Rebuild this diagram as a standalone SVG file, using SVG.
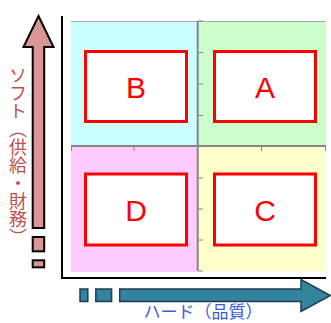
<svg xmlns="http://www.w3.org/2000/svg" width="331" height="323" viewBox="0 0 331 323">
<style>
.box{fill:#ffffff;stroke:#ff0000;stroke-width:3}
.lbl{font-family:"Liberation Sans",Arial,sans-serif;font-size:30px;fill:#ff0000;text-anchor:middle}
.axis{stroke:#868686;stroke-width:2;fill:none}
.tick{stroke:#868686;stroke-width:1;fill:none}
.blk{stroke:#000000;stroke-width:2;fill:none}
.pk{fill:#d99694;stroke:#000000;stroke-width:2}
.tl{fill:#31849b;stroke:#203a57;stroke-width:1.5}
</style>
<g id="quadrants">
<rect x="71" y="21" width="126.5" height="125" fill="#ccffff"/>
<rect x="198" y="21" width="128" height="125" fill="#ccffcc"/>
<rect x="71" y="146" width="126.5" height="126" fill="#ffccff"/>
<rect x="198" y="146" width="128" height="125" fill="#ffffcc"/>
<line x1="71" y1="21.5" x2="326" y2="21.5" stroke="#a6a6a6" stroke-width="1"/>
</g>
<g id="grid">
<line class="axis" x1="197.7" y1="21" x2="197.7" y2="271"/>
<line class="axis" x1="71" y1="146" x2="326" y2="146"/>
<path class="tick" d="M198 52.5h5M198 84h5M198 115.5h5M198 178h5M198 209h5M198 240h5M198 271h5M198 21h5"/>
<path class="tick" d="M71.5 146v5M134 146v5M261.5 146v5M325.5 146v5"/>
</g>
<g id="frame">
<path class="blk" d="M62 16V278H326"/>
</g>
<g id="node-B"><rect class="box" x="85.5" y="51.5" width="101" height="70"/><text class="lbl" x="136" y="97.5">B</text></g>
<g id="node-A"><rect class="box" x="214.5" y="51.5" width="101" height="70"/><text class="lbl" x="265" y="97.5">A</text></g>
<g id="node-D"><rect class="box" x="85.5" y="174" width="101" height="71"/><text class="lbl" x="136" y="221">D</text></g>
<g id="node-C"><rect class="box" x="214.5" y="174" width="101" height="71"/><text class="lbl" x="265" y="221">C</text></g>
<g id="connectors">
<polygon class="pk" points="38.5,16 53.5,47 44.2,47 44.2,228 32.7,228 32.7,47 23.5,47"/>
<rect class="pk" x="32.7" y="237" width="11.5" height="14.3"/>
<rect class="pk" x="32.7" y="260.3" width="11.5" height="7"/>
<polygon class="tl" points="119.7,289 301,289 301,279.5 330.5,295.5 301,311.5 301,301.5 119.7,301.5"/>
<rect class="tl" x="80" y="289" width="7.8" height="12.5"/>
<rect class="tl" x="95.8" y="289" width="15.8" height="12.5"/>
</g>
<g id="labels">
<text x="18" y="66" style="writing-mode:vertical-rl" font-family="'Noto Sans CJK JP',sans-serif" font-size="18" fill="#c0504d">ソフト（供給・財務）</text>
<text x="203" y="318" text-anchor="middle" font-family="'Noto Sans CJK JP',sans-serif" font-size="17" fill="#3d5ad8">ハード（品質）</text>
</g>
</svg>
